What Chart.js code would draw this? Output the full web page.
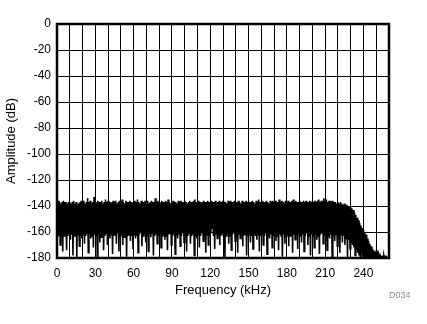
<!DOCTYPE html>
<html>
<head>
<meta charset="utf-8">
<script src="https://cdn.jsdelivr.net/npm/chart.js@4/dist/chart.umd.min.js"></script>
<style>
    html, body { margin: 0; padding: 0; background: #fff; }
    canvas { display: block; }
</style>
</head>
<body>
<canvas id="fft-chart" width="427" height="324"></canvas>
<script>
// Frequency bins (kHz), one per 1 kHz
const freqStart = 0;
const freqCount = 260;

// Upper edge of the noise floor (dB) per bin
const upperDb = [
    -137,-136,-137,-138,-137,-136,-137,-137,-138,-137,
    -137,-138,-137,-136,-138,-137,-139,-138,-137,-136,
    -137,-136,-138,-137,-134,-137,-136,-138,-137,-133,
    -137,-138,-136,-137,-137,-136,-138,-137,-135,-137,
    -136,-137,-138,-137,-136,-137,-136,-138,-137,-136,
    -137,-135,-137,-138,-136,-137,-137,-136,-137,-138,
    -137,-136,-137,-135,-137,-138,-136,-137,-137,-136,
    -137,-136,-138,-137,-136,-137,-137,-134,-137,-136,
    -137,-138,-136,-137,-137,-136,-137,-135,-137,-138,
    -137,-136,-137,-137,-138,-136,-137,-136,-137,-137,
    -136,-137,-138,-137,-136,-137,-137,-136,-135,-137,
    -137,-136,-137,-138,-137,-136,-137,-137,-136,-137,
    -137,-136,-137,-137,-136,-138,-137,-136,-137,-137,
    -136,-137,-137,-138,-136,-137,-136,-137,-137,-136,
    -137,-137,-136,-137,-138,-136,-137,-137,-136,-137,
    -136,-137,-137,-136,-137,-138,-136,-137,-135,-137,
    -137,-136,-137,-137,-136,-137,-138,-136,-137,-136,
    -137,-136,-137,-137,-135,-137,-136,-137,-138,-136,
    -137,-136,-137,-137,-136,-135,-137,-136,-137,-137,
    -136,-137,-137,-136,-137,-136,-137,-137,-136,-137,
    -136,-137,-136,-137,-136,-135,-137,-136,-136,-134,
    -136,-135,-137,-136,-136,-137,-136,-137,-137,-138,
    -137,-138,-137,-138,-139,-138,-139,-139,-140,-140,
    -141,-142,-143,-145,-147,-149,-151,-153,-155,-157,
    -158,-160,-162,-165,-167,-169,-171,-173,-174,-175,
    -176,-177,-178,-178,-179,-179,-178,-179,-179,-180
];

// Lower edge of the noise floor (dB) per bin, with the deep dips
const lowerDb = [
    -164,-163,-170,-162,-175,-163,-162,-174,-163,-161,
    -166,-162,-178,-163,-161,-180,-162,-171,-163,-165,
    -162,-169,-163,-161,-176,-162,-165,-163,-172,-162,
    -163,-180,-162,-168,-164,-162,-174,-163,-161,-170,
    -163,-165,-162,-177,-163,-162,-169,-161,-175,-163,
    -162,-170,-164,-161,-179,-163,-162,-167,-163,-173,
    -162,-165,-163,-176,-162,-161,-171,-163,-162,-168,
    -163,-175,-162,-164,-161,-178,-163,-162,-169,-163,
    -161,-172,-163,-162,-166,-163,-174,-162,-161,-170,
    -163,-162,-177,-163,-165,-162,-171,-163,-161,-168,
    -162,-175,-163,-161,-169,-163,-162,-178,-163,-165,
    -162,-172,-163,-161,-167,-163,-176,-162,-170,-163,
    -161,-157,-163,-173,-162,-165,-163,-170,-162,-161,
    -164,-180,-163,-162,-169,-163,-174,-162,-161,-167,
    -163,-176,-162,-165,-163,-171,-162,-161,-178,-163,
    -162,-168,-163,-173,-161,-163,-166,-162,-175,-163,
    -162,-170,-163,-161,-177,-163,-165,-162,-172,-163,
    -161,-167,-163,-174,-162,-163,-179,-162,-169,-163,
    -162,-171,-163,-161,-176,-162,-166,-163,-173,-162,
    -163,-168,-162,-175,-163,-161,-170,-163,-178,-162,
    -163,-172,-162,-166,-163,-177,-162,-161,-169,-163,
    -162,-174,-163,-165,-162,-180,-163,-167,-162,-171,
    -163,-176,-162,-168,-163,-170,-165,-180,-166,-173,
    -168,-170,-172,-178,-174,-176,-178,-180,-177,-179,
    -179,-180,-180,-180,-180,-180,-180,-180,-180,-180,
    -180,-180,-180,-180,-180,-180,-180,-180,-180,-180
];

// Axis ticks
const xTickLabels = [0, 30, 60, 90, 120, 150, 180, 210, 240];
const yTickLabels = [0, -20, -40, -60, -80, -100, -120, -140, -160, -180];

const xTitle = 'Frequency (kHz)';
const yTitle = 'Amplitude (dB)';
const figureId = 'D034';

document.addEventListener('DOMContentLoaded', function() {
    const ctx = document.getElementById('fft-chart').getContext('2d');
    const font = '"Liberation Sans", Arial, sans-serif';

    // Zigzag between the upper and lower edge so the band fills in solid
    const points = [];
    for (let i = 0; i < freqCount; i++) {
        const f = freqStart + i;
        points.push({ x: f, y: upperDb[i] });
        points.push({ x: f + 0.5, y: lowerDb[i] });
    }

    // Frame, axis titles and the figure id
    const decorations = {
        id: 'decorations',
        afterDatasetsDraw(chart) {
            const a = chart.chartArea;
            const c = chart.ctx;
            c.save();
            c.strokeStyle = '#000';
            c.lineWidth = 2.5;
            c.strokeRect(a.left, a.top, a.right - a.left, a.bottom - a.top);
            c.restore();
        },
        afterDraw(chart) {
            const a = chart.chartArea;
            const c = chart.ctx;
            c.save();
            c.fillStyle = '#000';
            c.font = '13px ' + font;
            c.textAlign = 'center';
            c.textBaseline = 'middle';
            c.fillText(xTitle, (a.left + a.right) / 2, 290);
            c.translate(11, (a.top + a.bottom) / 2);
            c.rotate(-Math.PI / 2);
            c.fillText(yTitle, 0, 0);
            c.restore();

            c.save();
            c.fillStyle = '#8c8c8c';
            c.font = '9px ' + font;
            c.textAlign = 'left';
            c.textBaseline = 'middle';
            c.fillText(figureId, 389, 296);
            c.restore();
        }
    };

    new Chart(ctx, {
        type: 'scatter',
        data: {
            datasets: [{
                data: points,
                showLine: true,
                borderColor: '#000',
                borderWidth: 1.6,
                pointRadius: 0,
                pointHoverRadius: 0
            }]
        },
        options: {
            responsive: false,
            animation: false,
            devicePixelRatio: 1,
            layout: { padding: { left: 0, right: 38, top: 24, bottom: 0 } },
            plugins: { legend: { display: false }, tooltip: { enabled: false } },
            scales: {
                x: {
                    type: 'linear',
                    min: 0,
                    max: 260,
                    grid: { color: '#000', lineWidth: 1, drawTicks: false },
                    border: { display: false },
                    ticks: {
                        stepSize: 10,
                        autoSkip: false,
                        maxRotation: 0,
                        padding: 8,
                        color: '#000',
                        font: { family: font, size: 12 },
                        callback: v => xTickLabels.includes(v) ? String(v) : ''
                    },
                    afterFit: scale => { scale.height = 324 - 258; }
                },
                y: {
                    min: -180,
                    max: 0,
                    grid: { color: '#000', lineWidth: 1, drawTicks: false },
                    border: { display: false },
                    ticks: {
                        stepSize: 20,
                        autoSkip: false,
                        padding: 6,
                        color: '#000',
                        font: { family: font, size: 12 },
                        callback: v => yTickLabels.includes(v) ? String(v) : ''
                    },
                    afterFit: scale => { scale.width = 57; }
                }
            }
        },
        plugins: [decorations]
    });
});
</script>
</body>
</html>
